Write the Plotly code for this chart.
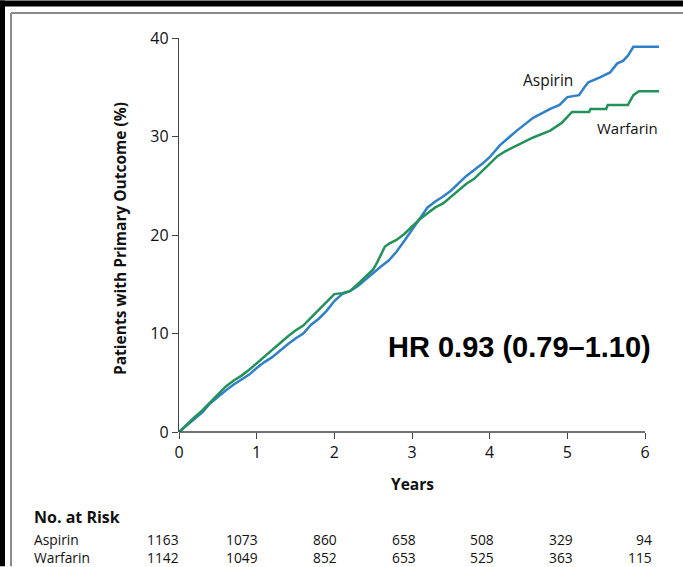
import plotly.graph_objects as go

# ---- data ----
aspirin_t = [0, 0.1, 0.2, 0.3, 0.4, 0.5, 0.6, 0.7, 0.8, 0.9, 1.0, 1.1, 1.2, 1.3, 1.4, 1.5, 1.6, 1.7, 1.8, 1.9,
             2.0, 2.1, 2.2, 2.3, 2.4, 2.5, 2.6, 2.7, 2.8, 2.9, 3.0, 3.1, 3.2, 3.3, 3.4, 3.5, 3.6, 3.7, 3.8, 3.9,
             4.0, 4.13, 4.35, 4.56, 4.78, 4.9, 5.0, 5.15, 5.22, 5.27, 5.42, 5.55, 5.64, 5.72, 5.78, 5.85, 6.18]
aspirin_v = [0, 0.7, 1.3, 2.0, 2.9, 3.6, 4.2, 4.8, 5.3, 5.8, 6.5, 7.1, 7.6, 8.3, 8.9, 9.5, 10.0, 10.9, 11.5, 12.3,
             13.3, 14.0, 14.3, 14.8, 15.5, 16.1, 16.8, 17.4, 18.3, 19.4, 20.5, 21.7, 22.8, 23.4, 23.9, 24.5, 25.3, 26.0, 26.6, 27.2,
             27.9, 29.1, 30.6, 31.9, 32.8, 33.2, 34.0, 34.2, 35.0, 35.5, 36.0, 36.5, 37.4, 37.7, 38.2, 39.1, 39.1]

warfarin_t = [0, 0.1, 0.2, 0.3, 0.4, 0.5, 0.6, 0.7, 0.8, 0.9, 1.0, 1.1, 1.2, 1.3, 1.4, 1.5, 1.6, 1.7, 1.8, 1.9,
              2.0, 2.1, 2.2, 2.3, 2.4, 2.5, 2.55, 2.6, 2.65, 2.7, 2.8, 2.9, 3.0, 3.1, 3.2, 3.3, 3.4, 3.5, 3.6, 3.7, 3.8, 3.9,
              4.0, 4.1, 4.2, 4.35, 4.56, 4.78, 4.93, 5.06, 5.28, 5.3, 5.5, 5.52, 5.78, 5.8, 5.85, 5.92, 6.18]
warfarin_v = [0, 0.8, 1.5, 2.2, 3.0, 3.8, 4.6, 5.2, 5.7, 6.3, 7.0, 7.7, 8.3, 9.0, 9.7, 10.3, 10.8, 11.6, 12.4, 13.3,
              14.0, 14.1, 14.3, 15.0, 15.7, 16.5, 17.2, 18.0, 18.8, 19.1, 19.5, 20.1, 20.9, 21.6, 22.2, 22.8, 23.2, 23.9, 24.6, 25.2, 25.7, 26.5,
              27.2, 28.0, 28.5, 29.1, 29.9, 30.6, 31.4, 32.5, 32.5, 32.8, 32.8, 33.2, 33.2, 33.5, 34.2, 34.6, 34.6]

x_ticks = [0, 1, 2, 3, 4, 5, 6]
y_ticks = [0, 10, 20, 30, 40]
risk_aspirin = [1163, 1073, 860, 658, 508, 329, 94]
risk_warfarin = [1142, 1049, 852, 653, 525, 363, 115]

BLUE = "#2f80c6"
GREEN = "#25915a"
AX = "#444444"
FONT = "Open Sans"
TXT = "#111111"

fig = go.Figure()
fig.add_trace(go.Scatter(x=aspirin_t, y=aspirin_v, mode="lines", line=dict(color=BLUE, width=2.5), name="Aspirin"))
fig.add_trace(go.Scatter(x=warfarin_t, y=warfarin_v, mode="lines", line=dict(color=GREEN, width=2.5), name="Warfarin"))

L, T, R, B = 179, 37.5, 24, 134.5
W, H = 683, 567
PW, PH = W - L - R, H - T - B

def px(xp):
    return (xp - L) / PW

def py(yp):
    return (H - B - yp) / PH

fig.update_layout(
    width=W, height=H,
    margin=dict(l=L, r=R, t=T, b=B, pad=0),
    paper_bgcolor="white", plot_bgcolor="white",
    showlegend=False,
    font=dict(family=FONT, size=14, color=TXT),
    xaxis=dict(range=[0, 6.18], tickvals=x_ticks, ticks="outside", ticklen=6, tickcolor=AX, tickwidth=1.3,
               showline=False, showgrid=False, zeroline=False, tickfont=dict(size=16, family=FONT, color=TXT)),
    yaxis=dict(range=[0, 40], tickvals=y_ticks, ticks="outside", ticklen=6, tickcolor=AX, tickwidth=1.3,
               showline=True, linecolor=AX, linewidth=1.3, showgrid=False, zeroline=False,
               tickfont=dict(size=16, family=FONT, color=TXT)),
)

# x axis line from 0 to 6
fig.add_shape(type="line", xref="x", yref="paper", x0=x_ticks[0], x1=x_ticks[-1], y0=0, y1=0,
              line=dict(color=AX, width=1.3))

# frame decorations
fig.add_shape(type="rect", xref="paper", yref="paper", x0=px(0), x1=px(W), y0=py(6), y1=py(0),
              fillcolor="black", line=dict(width=0), layer="above")
fig.add_shape(type="rect", xref="paper", yref="paper", x0=px(0), x1=px(5), y0=py(H), y1=py(0),
              fillcolor="black", line=dict(width=0), layer="above")
fig.add_shape(type="line", xref="paper", yref="paper", x0=px(11), x1=px(W), y0=py(12.5), y1=py(12.5),
              line=dict(color="#8a8a8a", width=2))
fig.add_shape(type="line", xref="paper", yref="paper", x0=px(11), x1=px(11), y0=py(12.5), y1=py(H),
              line=dict(color="#8a8a8a", width=2))

ann = []
ann.append(dict(text="<b>Patients with Primary Outcome (%)</b>", xref="paper", yref="paper", x=0, y=0.5,
                xshift=-59, yshift=-4, xanchor="center", yanchor="middle", textangle=-90, showarrow=False,
                font=dict(size=15.5, family=FONT, color=TXT)))
ann.append(dict(text="<b>Years</b>", xref="x", yref="paper", x=3, y=0, yshift=-51.5, xanchor="center",
                yanchor="middle", showarrow=False, font=dict(size=15.5, family=FONT, color=TXT)))
ann.append(dict(text="Aspirin", xref="x", yref="y", x=4.75, y=35.7, xanchor="center", yanchor="middle",
                showarrow=False, font=dict(size=15.5, family=FONT, color=TXT)))
ann.append(dict(text="Warfarin", xref="x", yref="y", x=5.77, y=30.9, xanchor="center", yanchor="middle",
                showarrow=False, font=dict(size=15, family=FONT, color=TXT)))
ann.append(dict(text="<b>HR 0.93 (0.79–1.10)</b>", xref="x", yref="y", x=4.38, y=8.66, xanchor="center",
                yanchor="middle", showarrow=False, font=dict(size=29, family="Liberation Sans", color="#000")))
ann.append(dict(text="<b>No. at Risk</b>", xref="paper", yref="paper", x=0, y=0, xshift=32 - L, yshift=-84.5,
                xanchor="left", yanchor="middle", showarrow=False, font=dict(size=16, family=FONT, color=TXT)))
ann.append(dict(text="Aspirin", xref="paper", yref="paper", x=0, y=0, xshift=32 - L, yshift=-107.5,
                xanchor="left", yanchor="middle", showarrow=False, font=dict(size=13.8, family=FONT, color=TXT)))
ann.append(dict(text="Warfarin", xref="paper", yref="paper", x=0, y=0, xshift=32 - L, yshift=-125.5,
                xanchor="left", yanchor="middle", showarrow=False, font=dict(size=13.8, family=FONT, color=TXT)))
for i, (t, a, w) in enumerate(zip(x_ticks, risk_aspirin, risk_warfarin)):
    shift = 2 + i * 1.2
    ann.append(dict(text=str(a), xref="x", yref="paper", x=t, y=0, xshift=shift, yshift=-107.5,
                    xanchor="right", yanchor="middle", showarrow=False,
                    font=dict(size=13.8, family=FONT, color=TXT)))
    ann.append(dict(text=str(w), xref="x", yref="paper", x=t, y=0, xshift=shift, yshift=-125.5,
                    xanchor="right", yanchor="middle", showarrow=False,
                    font=dict(size=13.8, family=FONT, color=TXT)))
fig.update_layout(annotations=ann)

fig.write_html("out.html")
